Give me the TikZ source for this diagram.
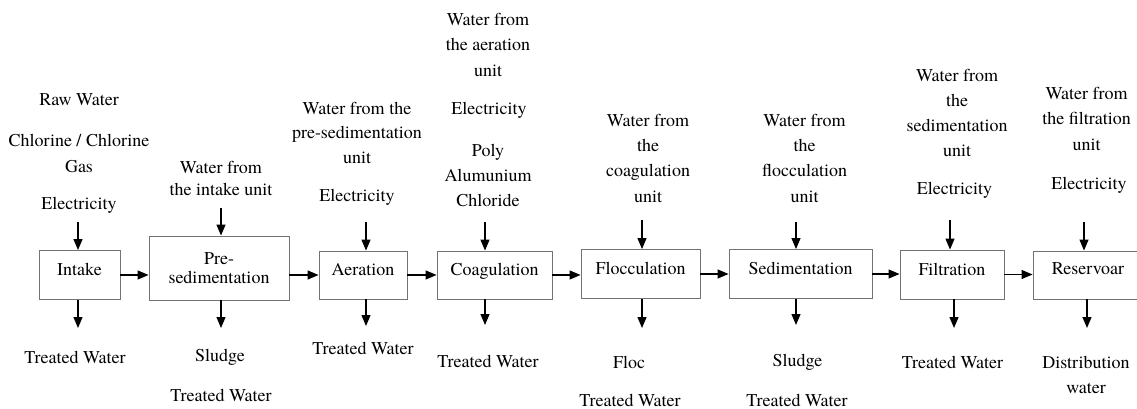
\documentclass[tikz,border=0pt]{standalone}
\usepackage{fontspec}
\setmainfont{TeX Gyre Termes}
\usetikzlibrary{arrows.meta}
\begin{document}
\begin{tikzpicture}[x=1pt,y=-1pt,
  box/.style={draw=black!55,line width=0.9pt,inner sep=0pt,font=\fontsize{18}{19.5}\selectfont,align=center},
  sbox/.style={box,text height=9pt,text depth=8pt},
  lbl/.style={inner sep=0pt,align=center,font=\fontsize{18}{25}\selectfont},
  arr/.style={line width=1.2pt,-{Triangle[length=11pt,width=9pt]}}]
\useasboundingbox (0,0) rectangle (1137,409);
\begin{scope}
\clip (0,0) rectangle (1137,409);
% boxes
\node[sbox,minimum width=81pt,minimum height=49pt] (intake) at (79.5,275) {Intake};
\node[box,minimum width=140pt,minimum height=64pt] (pre) at (219,268) {Pre-\\sedimentation};
\node[sbox,minimum width=88pt,minimum height=48pt] (aer) at (363,275) {Aeration};
\node[sbox,minimum width=115pt,minimum height=48pt] (coag) at (494.5,275) {Coagulation};
\node[sbox,minimum width=119pt,minimum height=49pt] (floc) at (640.5,274) {Flocculation};
\node[sbox,minimum width=143pt,minimum height=49pt] (sed) at (800.5,274) {Sedimentation};
\node[sbox,minimum width=104pt,minimum height=49pt] (filt) at (952,274.5) {Filtration};
\node[box,minimum width=112pt,minimum height=48pt] (res) at (1089,275) {};
\node[lbl,text height=9pt,text depth=8pt] (reslbl) at (1088,274) {Reservoar};
\end{scope}
% horizontal arrows
\draw[arr] (intake.east) -- (pre.west |- intake.east);
\draw[arr] (pre.east |- aer.west) -- (aer.west);
\draw[arr] (aer.east) -- (coag.west);
\draw[arr] (coag.east) -- (floc.west |- coag.east);
\draw[arr] (floc.east) -- (sed.west);
\draw[arr] (sed.east) -- (filt.west |- sed.east);
\draw[arr] (filt.east) -- (res.west |- filt.east);
% input arrows
\coordinate (i1) at (78,222);
\coordinate (i2) at (221,208);
\coordinate (i3) at (366,222);
\coordinate (i4) at (485,222);
\coordinate (i5) at (642,220);
\coordinate (i6) at (796,222);
\coordinate (i7) at (950,220);
\coordinate (i8) at (1084,222);
\draw[arr] (i1) -- (i1 |- intake.north);
\draw[arr] (i2) -- (i2 |- pre.north);
\draw[arr] (i3) -- (i3 |- aer.north);
\draw[arr] (i4) -- (i4 |- coag.north);
\draw[arr] (i5) -- (i5 |- floc.north);
\draw[arr] (i6) -- (i6 |- sed.north);
\draw[arr] (i7) -- (i7 |- filt.north);
\draw[arr] (i8) -- (i8 |- res.north);
% output arrows
\coordinate (o1) at (78,328);
\coordinate (o2) at (221,328);
\coordinate (o3) at (366,326);
\coordinate (o4) at (485,325);
\coordinate (o5) at (642,328);
\coordinate (o6) at (796,325);
\coordinate (o7) at (954,328);
\coordinate (o8) at (1087,328);
\draw[arr] (o1 |- intake.south) -- (o1);
\draw[arr] (o2 |- pre.south) -- (o2);
\draw[arr] (o3 |- aer.south) -- (o3);
\draw[arr] (o4 |- coag.south) -- (o4);
\draw[arr] (o5 |- floc.south) -- (o5);
\draw[arr] (o6 |- sed.south) -- (o6);
\draw[arr] (o7 |- filt.south) -- (o7);
\draw[arr] (o8 |- res.south) -- (o8);
% input labels
\node[lbl] (t1a) at (79,100) {Raw Water};
\node[lbl,font=\fontsize{18}{26}\selectfont] (t1b) at (79,153) {Chlorine / Chlorine\\Gas};
\node[lbl] (t1c) at (79,205) {Electricity};
\node[lbl,font=\fontsize{18}{22}\selectfont] (t2) at (221,178) {Water from\\the intake unit};
\node[lbl,font=\fontsize{18}{24.5}\selectfont] (t3a) at (357,132.5) {Water from the\\pre-sedimentation\\unit};
\node[lbl] (t3b) at (357,197) {Electricity};
\node[lbl,font=\fontsize{18}{25.5}\selectfont] (t4a) at (488,44.5) {Water from\\the aeration\\unit};
\node[lbl] (t4b) at (489,110) {Electricity};
\node[lbl] (t4c) at (488,175) {Poly\\Alumunium\\Chloride};
\node[lbl,font=\fontsize{18}{25.3}\selectfont] (t5) at (648,158) {Water from\\the\\coagulation\\unit};
\node[lbl,font=\fontsize{18}{25.3}\selectfont] (t6) at (804.5,158) {Water from\\the\\flocculation\\unit};
\node[lbl] (t7a) at (957,112.5) {Water from\\the\\sedimentation\\unit};
\node[lbl] (t7b) at (954.5,190) {Electricity};
\node[lbl,font=\fontsize{18}{25.5}\selectfont] (t8a) at (1086.5,118.5) {Water from\\the filtration\\unit};
\node[lbl] (t8b) at (1089,185) {Electricity};
% output labels
\node[lbl] (u1) at (75,357) {Treated Water};
\node[lbl] (u2a) at (220,357) {Sludge};
\node[lbl] (u2b) at (221,395) {Treated Water};
\node[lbl] (u3) at (363,348) {Treated Water};
\node[lbl] (u4) at (488,361) {Treated Water};
\node[lbl] (u5a) at (629,362) {Floc};
\node[lbl] (u5b) at (630,400) {Treated Water};
\node[lbl] (u6a) at (797.5,362) {Sludge};
\node[lbl] (u6b) at (797,400) {Treated Water};
\node[lbl] (u7) at (952.5,362) {Treated Water};
\node[lbl] (u8) at (1086,374.5) {Distribution\\water};
\end{tikzpicture}
\end{document}
